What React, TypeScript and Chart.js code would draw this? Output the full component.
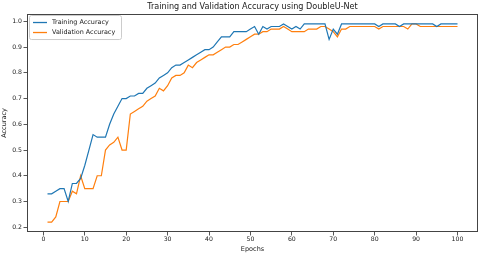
import React, { useEffect, useRef } from "react";
import { Chart, registerables } from "chart.js";

Chart.register(...registerables);

const chartTitle = "Training and Validation Accuracy using DoubleU-Net";
const xAxisLabel = "Epochs";
const yAxisLabel = "Accuracy";
const seriesLabels = ["Training Accuracy", "Validation Accuracy"];
const seriesColors = ["#1f77b4", "#ff7f0e"];

const epochs = [
  1, 2, 3, 4, 5, 6, 7, 8, 9, 10,
  11, 12, 13, 14, 15, 16, 17, 18, 19, 20,
  21, 22, 23, 24, 25, 26, 27, 28, 29, 30,
  31, 32, 33, 34, 35, 36, 37, 38, 39, 40,
  41, 42, 43, 44, 45, 46, 47, 48, 49, 50,
  51, 52, 53, 54, 55, 56, 57, 58, 59, 60,
  61, 62, 63, 64, 65, 66, 67, 68, 69, 70,
  71, 72, 73, 74, 75, 76, 77, 78, 79, 80,
  81, 82, 83, 84, 85, 86, 87, 88, 89, 90,
  91, 92, 93, 94, 95, 96, 97, 98, 99, 100,
];

const trainingAccuracy = [
  0.33, 0.33, 0.34, 0.35, 0.35, 0.30, 0.37, 0.37, 0.39, 0.44,
  0.50, 0.56, 0.55, 0.55, 0.55, 0.60, 0.64, 0.67, 0.70, 0.70,
  0.71, 0.71, 0.72, 0.72, 0.74, 0.75, 0.76, 0.78, 0.79, 0.80,
  0.82, 0.83, 0.83, 0.84, 0.85, 0.86, 0.87, 0.88, 0.89, 0.89,
  0.90, 0.92, 0.94, 0.94, 0.94, 0.96, 0.96, 0.96, 0.96, 0.97,
  0.98, 0.95, 0.98, 0.97, 0.98, 0.98, 0.98, 0.99, 0.98, 0.97,
  0.98, 0.97, 0.99, 0.99, 0.99, 0.99, 0.99, 0.99, 0.93, 0.97,
  0.95, 0.99, 0.99, 0.99, 0.99, 0.99, 0.99, 0.99, 0.99, 0.99,
  0.98, 0.99, 0.99, 0.99, 0.99, 0.98, 0.99, 0.99, 0.99, 0.99,
  0.99, 0.99, 0.99, 0.99, 0.98, 0.99, 0.99, 0.99, 0.99, 0.99,
];

const validationAccuracy = [
  0.22, 0.22, 0.24, 0.30, 0.30, 0.30, 0.34, 0.33, 0.40, 0.35,
  0.35, 0.35, 0.40, 0.40, 0.50, 0.52, 0.53, 0.55, 0.50, 0.50,
  0.64, 0.65, 0.66, 0.67, 0.69, 0.70, 0.71, 0.74, 0.73, 0.75,
  0.78, 0.79, 0.79, 0.80, 0.83, 0.82, 0.84, 0.85, 0.86, 0.87,
  0.87, 0.88, 0.89, 0.90, 0.90, 0.91, 0.91, 0.92, 0.93, 0.94,
  0.95, 0.95, 0.96, 0.96, 0.97, 0.97, 0.97, 0.98, 0.97, 0.96,
  0.96, 0.96, 0.96, 0.97, 0.97, 0.97, 0.98, 0.98, 0.97, 0.96,
  0.94, 0.97, 0.97, 0.98, 0.98, 0.98, 0.98, 0.98, 0.98, 0.98,
  0.97, 0.98, 0.98, 0.98, 0.98, 0.98, 0.98, 0.97, 0.99, 0.99,
  0.98, 0.98, 0.98, 0.98, 0.98, 0.98, 0.98, 0.98, 0.98, 0.98,
];

const xTicks = [0, 10, 20, 30, 40, 50, 60, 70, 80, 90, 100];
const yTicks = [0.2, 0.3, 0.4, 0.5, 0.6, 0.7, 0.8, 0.9, 1.0];

const FONT = "'DejaVu Sans', sans-serif";
const INK = "#1a1a1a";
const SPINE = "#444444";

const framePlugin = {
  id: "frame",
  afterDatasetsDraw(chart: any) {
    const { ctx, chartArea } = chart;
    const l = Math.round(chartArea.left) + 0.5;
    const t = Math.round(chartArea.top) + 0.5;
    const r = Math.round(chartArea.right) - 0.5;
    const b = Math.round(chartArea.bottom) - 0.5;
    ctx.save();
    ctx.strokeStyle = SPINE;
    ctx.lineWidth = 1;
    ctx.strokeRect(l, t, r - l, b - t);
    ctx.restore();
  },
};

const legendPlugin = {
  id: "mplLegend",
  afterDraw(chart: any) {
    const { ctx, chartArea } = chart;
    const x0 = chartArea.left + 2.5;
    const y0 = chartArea.top + 1.5;
    const w = 92;
    const h = 24;
    const rad = 2;
    ctx.save();
    ctx.beginPath();
    ctx.moveTo(x0 + rad, y0);
    ctx.lineTo(x0 + w - rad, y0);
    ctx.quadraticCurveTo(x0 + w, y0, x0 + w, y0 + rad);
    ctx.lineTo(x0 + w, y0 + h - rad);
    ctx.quadraticCurveTo(x0 + w, y0 + h, x0 + w - rad, y0 + h);
    ctx.lineTo(x0 + rad, y0 + h);
    ctx.quadraticCurveTo(x0, y0 + h, x0, y0 + h - rad);
    ctx.lineTo(x0, y0 + rad);
    ctx.quadraticCurveTo(x0, y0, x0 + rad, y0);
    ctx.closePath();
    ctx.fillStyle = "rgba(255,255,255,0.8)";
    ctx.fill();
    ctx.strokeStyle = "#cccccc";
    ctx.lineWidth = 1;
    ctx.stroke();
    ctx.font = `6.45px ${FONT}`;
    ctx.textBaseline = "middle";
    ctx.textAlign = "left";
    chart.data.datasets.forEach((ds: any, i: number) => {
      const y = y0 + 7 + i * 10;
      ctx.strokeStyle = ds.borderColor;
      ctx.lineWidth = 1.3;
      ctx.beginPath();
      ctx.moveTo(x0 + 3.5, y);
      ctx.lineTo(x0 + 17.5, y);
      ctx.stroke();
      ctx.fillStyle = INK;
      ctx.fillText(ds.label, x0 + 22.5, y + 0.3);
    });
    ctx.restore();
  },
};

export default function App() {
  const canvasRef = useRef<HTMLCanvasElement | null>(null);

  useEffect(() => {
    const canvas = canvasRef.current;
    if (!canvas) return;
    const seriesValues = [trainingAccuracy, validationAccuracy];
    const chart = new Chart(canvas, {
      type: "line",
      data: {
        datasets: seriesValues.map((vals, i) => ({
          label: seriesLabels[i],
          data: epochs.map((e, j) => ({ x: e, y: vals[j] })),
          borderColor: seriesColors[i],
          backgroundColor: seriesColors[i],
          borderWidth: 1.2,
          pointRadius: 0,
          tension: 0,
          fill: false,
        })),
      },
      options: {
        responsive: false,
        animation: false,
        devicePixelRatio: 1,
        layout: { padding: { left: 0, right: 2, top: 0, bottom: 0 } },
        plugins: {
          legend: { display: false },
          tooltip: { enabled: false },
          title: {
            display: true,
            text: chartTitle,
            fullSize: false,
            color: INK,
            font: { family: FONT, size: 8.1, weight: "normal", lineHeight: 1.2 },
            padding: { top: 1.6, bottom: 2.7 },
          },
        },
        scales: {
          x: {
            type: "linear",
            min: -3.95,
            max: 104.95,
            afterFit: (s: any) => {
              s.height = 23;
            },
            afterBuildTicks: (s: any) => {
              s.ticks = xTicks.map((v) => ({ value: v }));
            },
            border: { display: false },
            grid: {
              drawOnChartArea: false,
              drawTicks: true,
              tickLength: 3.5,
              tickColor: SPINE,
              tickWidth: 0.9,
            },
            ticks: {
              color: INK,
              padding: 0.5,
              maxRotation: 0,
              autoSkip: false,
              font: { family: FONT, size: 6.2 },
              callback: (v: any) => String(v),
            },
            title: {
              display: true,
              text: xAxisLabel,
              color: INK,
              font: { family: FONT, size: 6.5, lineHeight: 1.2 },
              padding: { top: 0, bottom: 1.5 },
            },
          },
          y: {
            type: "linear",
            min: 0.1815,
            max: 1.0285,
            afterFit: (s: any) => {
              s.width = 27;
            },
            afterBuildTicks: (s: any) => {
              s.ticks = yTicks.map((v) => ({ value: v }));
            },
            border: { display: false },
            grid: {
              drawOnChartArea: false,
              drawTicks: true,
              tickLength: 3.5,
              tickColor: SPINE,
              tickWidth: 0.9,
            },
            ticks: {
              color: INK,
              padding: 1.5,
              autoSkip: false,
              font: { family: FONT, size: 6.2 },
              callback: (v: any) => Number(v).toFixed(1),
            },
            title: {
              display: true,
              text: yAxisLabel,
              color: INK,
              font: { family: FONT, size: 6.5, lineHeight: 1.2 },
              padding: { top: 0.8, bottom: 0 },
            },
          },
        },
      },
      plugins: [framePlugin, legendPlugin],
    } as any);
    return () => chart.destroy();
  }, []);

  return (
    <div
      style={{
        position: "fixed",
        left: 0,
        top: 0,
        width: 480,
        height: 255,
        background: "#ffffff",
      }}
    >
      <canvas ref={canvasRef} width={480} height={255} style={{ display: "block" }} />
    </div>
  );
}
